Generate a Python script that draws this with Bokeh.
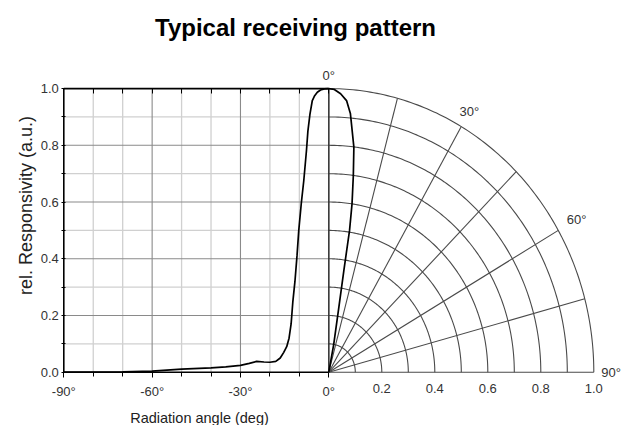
import numpy as np
from bokeh.plotting import figure
from bokeh.models import Range1d, FixedTicker, LinearAxis
from bokeh.core.properties import value
from bokeh.embed import file_html
from bokeh.resources import INLINE

# ---------------- data ----------------
cart_angle = [-90, -80, -70, -60, -50, -40, -35, -30, -27, -24.5, -22, -20, -18, -16.5,
              -15.3, -14.3, -13.5, -12.8, -12.2, -11.5, -10.8, -10.2, -9.3, -8.5, -7.6,
              -7.1, -6.4, -5.6, -4.8, -3.9, -2.8, -1.5, 0]
cart_resp = [0.0, 0.0, 0.001, 0.004, 0.011, 0.015, 0.019, 0.024, 0.031, 0.038, 0.036,
             0.035, 0.038, 0.05, 0.07, 0.09, 0.12, 0.17, 0.25, 0.32, 0.41, 0.5, 0.6,
             0.675, 0.78, 0.85, 0.91, 0.958, 0.975, 0.987, 0.995, 0.999, 1.0]

polar_angle = [0, 1.2, 2.6, 4.0, 5.1, 6.8, 7.6, 8.4, 8.9, 9.0, 9.4, 10.7, 12.0]
polar_r = [1.0, 0.997, 0.983, 0.96, 0.916, 0.799, 0.70, 0.60, 0.506, 0.363, 0.232, 0.10, 0.0]

x_ticks = [-90, -60, -30, 0]
x_minor = [-80, -70, -50, -40, -20, -10]
x_tick_labels = ["-90°", "-60°", "-30°", "0°"]
y_ticks = [0.0, 0.2, 0.4, 0.6, 0.8, 1.0]
y_minor = [0.1, 0.3, 0.5, 0.7, 0.9]
y_tick_labels = ["0.0", "0.2", "0.4", "0.6", "0.8", "1.0"]

polar_rings = [0.1, 0.2, 0.3, 0.4, 0.5, 0.6, 0.7, 0.8, 0.9, 1.0]
polar_spokes = [0, 15, 30, 45, 60, 75, 90]
polar_r_ticks = [0.2, 0.4, 0.6, 0.8, 1.0]
polar_r_labels = ["0.2", "0.4", "0.6", "0.8", "1.0"]
polar_angle_ticks = [0, 30, 60, 90]
polar_angle_labels = ["0°", "30°", "60°", "90°"]

title_text = "Typical receiving pattern"
x_label_text = "Radiation angle (deg)"
y_label_text = "rel. Responsivity (a.u.)"

# ---------------- layout ----------------
W, H = 631, 425
OX, OY = 328.3, 371.7                      # origin (0°, 0.0) in px
SX = 265.0 / 90.0                          # px per degree
SY = 283.6                                 # px per unit response
PSCALE = 90.0                              # polar unit -> x data units

def fx(px):
    return (px - OX) / SX

def fy(py):
    return (OY - py) / SY

FONT = "Liberation Sans"

p = figure(width=W, height=H, min_border=0,
           x_range=Range1d(fx(0), fx(W)), y_range=Range1d(fy(H), fy(0)),
           x_axis_type=None, y_axis_type=None,
           output_backend="svg", toolbar_location=None)
p.outline_line_color = None
p.xgrid.visible = False
p.ygrid.visible = False
p.background_fill_color = "white"
p.border_fill_color = "white"

x_lo, y_hi = x_ticks[0], y_ticks[-1]

# ---------------- grid ----------------
major_v = [v for v in x_ticks if v not in (x_ticks[0], x_ticks[-1])]
major_h = y_ticks[1:-1]
p.segment(x0=x_minor, y0=[0] * len(x_minor), x1=x_minor, y1=[y_hi] * len(x_minor),
          line_color="#d0d0d0", line_width=1.3)
p.segment(x0=[x_lo] * len(y_minor), y0=y_minor, x1=[0] * len(y_minor), y1=y_minor,
          line_color="#d0d0d0", line_width=1.3)
p.segment(x0=major_v, y0=[0] * len(major_v), x1=major_v, y1=[y_hi] * len(major_v),
          line_color="#8a8a8a", line_width=1.1)
p.segment(x0=[x_lo] * len(major_h), y0=major_h, x1=[0] * len(major_h), y1=major_h,
          line_color="#8a8a8a", line_width=1.1)

# polar grid
t = np.linspace(0, np.pi / 2, 121)
p.multi_line(xs=[list(PSCALE * r * np.sin(t)) for r in polar_rings],
             ys=[list(r * np.cos(t)) for r in polar_rings],
             line_color="#4a4a4a", line_width=1.1)
sp = np.radians(polar_spokes)
p.segment(x0=[0] * len(sp), y0=[0] * len(sp),
          x1=list(PSCALE * np.sin(sp)), y1=list(np.cos(sp)),
          line_color="#4a4a4a", line_width=1.1)
p.segment(x0=[0], y0=[0], x1=[0], y1=[y_hi], line_color="#333333", line_width=1.3)

# frame lines of the cartesian part
p.segment(x0=[x_lo, x_lo, x_lo], y0=[0, y_hi, 0], x1=[0, 0, x_lo], y1=[0, y_hi, y_hi],
          line_color="black", line_width=1.6)

# ---------------- axes ----------------
def style_axis(ax):
    ax.axis_line_color = None
    ax.major_tick_line_color = "black"
    ax.minor_tick_line_color = "black"
    ax.major_label_text_font = FONT
    ax.major_label_text_font_size = "13px"
    ax.major_label_text_color = "#333333"

xaxis = LinearAxis(ticker=FixedTicker(ticks=x_ticks, minor_ticks=x_minor),
                   major_label_overrides={float(v): l for v, l in zip(x_ticks, x_tick_labels)},
                   fixed_location=0)
style_axis(xaxis)
xaxis.major_tick_out = 5
xaxis.major_tick_in = 0
xaxis.minor_tick_out = 4
xaxis.minor_tick_in = 0
xaxis.major_label_standoff = 7
p.add_layout(xaxis, "below")

raxis = LinearAxis(ticker=FixedTicker(ticks=[PSCALE * r for r in polar_r_ticks], minor_ticks=[]),
                   major_label_overrides={float(PSCALE * r): l for r, l in zip(polar_r_ticks, polar_r_labels)},
                   fixed_location=0)
style_axis(raxis)
raxis.major_tick_line_color = None
raxis.major_tick_out = 0
raxis.major_tick_in = 0
raxis.major_label_standoff = 12
p.add_layout(raxis, "below")

taxis = LinearAxis(ticker=FixedTicker(ticks=x_ticks, minor_ticks=x_minor),
                   fixed_location=y_hi)
style_axis(taxis)
taxis.major_label_text_font_size = "0px"
taxis.major_label_text_color = None
taxis.major_tick_out = 0
taxis.major_tick_in = 5
taxis.minor_tick_out = 0
taxis.minor_tick_in = 5
p.add_layout(taxis, "above")

yaxis = LinearAxis(ticker=FixedTicker(ticks=y_ticks, minor_ticks=y_minor),
                   major_label_overrides={float(v): l for v, l in zip(y_ticks, y_tick_labels)},
                   fixed_location=x_lo)
style_axis(yaxis)
yaxis.major_tick_out = 2
yaxis.major_tick_in = 2
yaxis.minor_tick_out = 2
yaxis.minor_tick_in = 2
yaxis.major_label_standoff = 3
p.add_layout(yaxis, "left")

# ---------------- curves ----------------
p.line(cart_angle, cart_resp, line_color="black", line_width=1.7)
pa = np.radians(polar_angle)
pr = np.array(polar_r)
p.line(list(PSCALE * pr * np.sin(pa)), list(pr * np.cos(pa)), line_color="black", line_width=1.7)

# ---------------- texts ----------------
label_radius = [1.046, 1.06, 1.08, 1.065]
aa = np.radians(polar_angle_ticks)
p.text(x=[PSCALE * R * np.sin(a) for R, a in zip(label_radius, aa)],
       y=[R * np.cos(a) for R, a in zip(label_radius, aa)],
       text=polar_angle_labels, text_align="center", text_baseline="middle",
       text_font=value(FONT), text_font_size="13px", text_color="#333333")

p.text(x=[fx(295)], y=[fy(27.3)], text=[title_text], text_align="center",
       text_baseline="alphabetic", text_font=value(FONT), text_font_size="24px",
       text_font_style="bold", text_color="black")
p.text(x=[fx(199)], y=[fy(417.5)], text=[x_label_text], text_align="center",
       text_baseline="alphabetic", text_font=value(FONT), text_font_size="14.5px",
       text_color="#222222")
p.text(x=[fx(25.5)], y=[fy(205)], text=[y_label_text], angle=np.pi / 2,
       text_align="center", text_baseline="middle", text_font=value(FONT),
       text_font_size="18px", text_color="#222222")

open("out.html", "w").write(file_html(p, INLINE))
